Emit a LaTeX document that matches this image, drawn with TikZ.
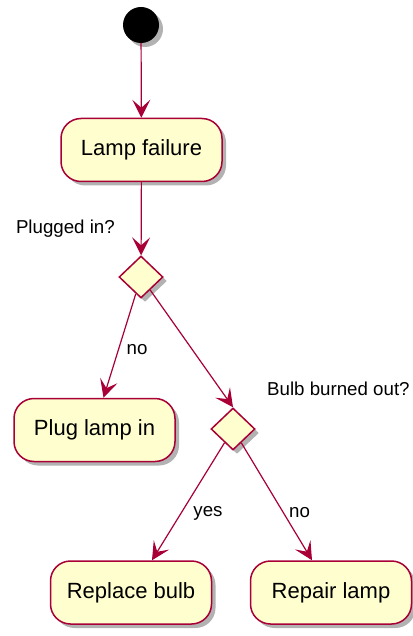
\documentclass[tikz,border=0pt]{standalone}
\usepackage{fontspec}
\setmainfont{Liberation Sans}
\usetikzlibrary{shapes.geometric,shadows,arrows.meta}

\definecolor{umlfill}{HTML}{FEFECE}
\definecolor{umlline}{HTML}{A80036}

\begin{document}
\begin{tikzpicture}[x=1pt,y=-1pt,
    shade/.style={drop shadow={shadow xshift=4pt,shadow yshift=-4pt,fill=black,opacity=0.3}},
    activity/.style={draw=umlline,fill=umlfill,line width=1.5pt,rounded corners=20pt,
      minimum width=161pt,minimum height=63pt,font=\fontsize{22}{26}\selectfont,shade},
    choice/.style={diamond,draw=umlline,fill=umlfill,line width=1.5pt,
      minimum width=44pt,minimum height=42pt,inner sep=0pt,shade},
    lbl/.style={font=\fontsize{18.7}{22}\selectfont,inner sep=0pt},
    flow/.style={draw=umlline,line width=1.2pt,-{Stealth[length=18pt,width=18pt,inset=8pt]}}]
    \useasboundingbox (0,0) rectangle (412,636);
    % start
    \node[circle,fill=black,minimum size=36pt,inner sep=0pt,shade] (start) at (141,25) {};
    % activities
    \node[activity] (lamp) at (141.5,150) {Lamp failure};
    \node[activity] (plug) at (94.5,430) {Plug lamp in};
    \node[activity] (bulb) at (131,592.5) {Replace bulb};
    \node[activity] (repair) at (331,592.5) {Repair lamp};
    % decisions
    \node[choice] (d1) at (141,277) {};
    \node[choice] (d2) at (233,429) {};
    \node[lbl,anchor=east] (q1) at (115,229) {Plugged in?};
    \node[lbl,anchor=west] (q2) at (267,389) {Bulb burned out?};
    % flows
    \draw[flow] (start) -- (lamp);
    \draw[flow] (lamp) -- (d1);
    \draw[flow] (d1) -- ([xshift=9pt]plug.north);
    \draw[flow] (d1) -- (d2.north);
    \draw[flow] (d2) -- ([xshift=21pt]bulb.north);
    \draw[flow] (d2) -- ([xshift=-19pt]repair.north);
    % branch labels
    \node[lbl] (no1) at (137,350) {no};
    \node[lbl] (yes2) at (208,513) {yes};
    \node[lbl] (no2) at (299.5,513) {no};
\end{tikzpicture}
\end{document}
